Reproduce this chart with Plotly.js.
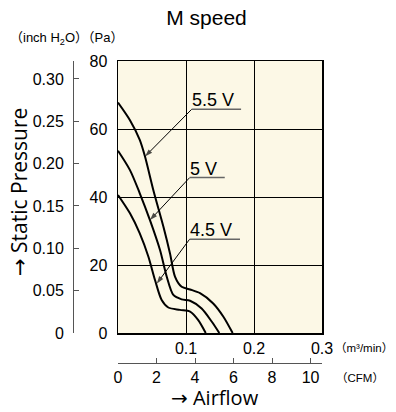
<!DOCTYPE html>
<html>
<head>
<meta charset="utf-8">
<script src="https://cdn.plot.ly/plotly-3.0.1.min.js"></script>
<style>html,body{margin:0;padding:0;background:#fff;}#chart{width:396px;height:412px;}</style>
</head>
<body>
<div id="chart"></div>
<script>
// Airflow (m3/min) and static pressure (Pa)
const flow55 = [0, 0.0176, 0.032, 0.0397, 0.052, 0.0667, 0.0765, 0.0838, 0.0936, 0.106, 0.1206, 0.140, 0.155, 0.1686];
const pres55 = [67.8, 62.6, 56.8, 51.9, 42, 31.3, 23.4, 16.6, 13.6, 12.8, 11.7, 8.7, 4.8, 0];
const flow50 = [0, 0.0176, 0.032, 0.047, 0.0618, 0.0716, 0.0814, 0.0936, 0.106, 0.123, 0.138, 0.149];
const pres50 = [53.6, 47.9, 41.1, 33.2, 24.4, 16.6, 11.2, 9.9, 9.5, 7.2, 3.3, 0];
const flow45 = [0, 0.0176, 0.032, 0.0446, 0.0544, 0.0642, 0.074, 0.091, 0.106, 0.118, 0.129];
const pres45 = [40.6, 35.2, 29.3, 22.5, 15.6, 9.7, 7.5, 6.8, 6.3, 3.8, 0];

// Voltage labels
const labelText = ['5.5 V', '5 V', '4.5 V'];
const labelX = [0.1084, 0.1054, 0.1054];
const labelEndX = [0.181, 0.157, 0.1794];
const labelY = [65.8, 45.7, 27.6];
const arrowX = [0.0397, 0.047, 0.0569];
const arrowY = [51.9, 33.2, 14.5];

// Tick labels
const paTicks = [0, 20, 40, 60, 80];
const m3Ticks = [0.1, 0.2, 0.3];
const m3TickText = ['0.1', '0.2', '0.3'];
const inchTicks = [0, 0.05, 0.10, 0.15, 0.20, 0.25, 0.30];
const inchTickText = ['0', '0.05', '0.10', '0.15', '0.20', '0.25', '0.30'];
const cfmTicks = [0, 2, 4, 6, 8, 10];

const PA_PER_INCH = 249.089;
const CFM_PER_M3 = 35.3147;
const xMax = 0.3, yMax = 80;

const tickFam = '"Liberation Sans", Arial, sans-serif';
const sans = '"Liberation Sans", Arial, sans-serif';
const small = '"Liberation Sans", "Noto Sans CJK JP", sans-serif';
const big = '"Open Sans", sans-serif';
const arrowSpan = '<span style="font-family:\'DejaVu Sans\'">→</span> ';

const W = 396, H = 412, mL = 60, mR = 74, mT = 61, mB = 30;
const pw = W - mL - mR, ph = H - mT - mB;
const px = v => (v - mL) / pw;
const py = v => (H - mB - v) / ph;

const curve = (x, y) => ({x, y, type: 'scatter', mode: 'lines', line: {color: '#000', width: 2, shape: 'spline', smoothing: 0.8}, hoverinfo: 'skip', showlegend: false});
const traces = [
  curve(flow55, pres55), curve(flow50, pres50), curve(flow45, pres45),
  {x: [0], y: [0], xaxis: 'x', yaxis: 'y2', mode: 'markers', marker: {opacity: 0}, hoverinfo: 'skip', showlegend: false},
  {x: [0], y: [0], xaxis: 'x2', yaxis: 'y', mode: 'markers', marker: {opacity: 0}, hoverinfo: 'skip', showlegend: false}
];

const annotations = [];
const shapes = [];
labelText.forEach((t, i) => {
  annotations.push({x: labelX[i], y: labelY[i], xref: 'x', yref: 'y', text: t, showarrow: false, xanchor: 'left', yanchor: 'bottom', yshift: -3, xshift: -2, font: {family: sans, size: 18, color: '#000'}});
  traces.push({x: [labelX[i], arrowX[i]], y: [labelY[i], arrowY[i]], type: 'scatter', mode: 'lines+markers', line: {color: '#000', width: 1}, marker: {symbol: 'arrow', size: [0, 8], color: '#000', angleref: 'previous', line: {width: 0}}, hoverinfo: 'skip', showlegend: false});
  shapes.push({type: 'line', xref: 'x', yref: 'y', x0: labelX[i], x1: labelEndX[i], y0: labelY[i], y1: labelY[i], line: {color: '#666', width: 1.5}});
});

annotations.push({xref: 'paper', yref: 'paper', x: px(18.5), y: py(192.5), text: arrowSpan + 'Static Pressure', textangle: -90, showarrow: false, xanchor: 'center', yanchor: 'middle', font: {family: big, size: 21, color: '#000'}});
annotations.push({xref: 'paper', yref: 'paper', x: px(215), y: py(411.5), text: arrowSpan + 'Airflow', showarrow: false, xanchor: 'center', yanchor: 'bottom', borderpad: 0, font: {family: big, size: 20, color: '#000'}});
annotations.push({xref: 'paper', yref: 'paper', x: px(8), y: py(38), text: '（inch H<sub>2</sub>O）（Pa）', showarrow: false, xanchor: 'left', yanchor: 'middle', font: {family: small, size: 13, color: '#000'}});
annotations.push({xref: 'paper', yref: 'paper', x: px(333), y: py(348), text: '（m³/min）', showarrow: false, xanchor: 'left', yanchor: 'middle', font: {family: small, size: 11.5, color: '#000'}});
annotations.push({xref: 'paper', yref: 'paper', x: px(334), y: py(378), text: '（CFM）', showarrow: false, xanchor: 'left', yanchor: 'middle', font: {family: small, size: 11.5, color: '#000'}});

const tf = {family: tickFam, size: 16, color: '#000'};
const layout = {
  width: W, height: H,
  margin: {l: mL, r: mR, t: mT, b: mB, pad: 0},
  paper_bgcolor: '#fff', plot_bgcolor: '#fcf8e6',
  showlegend: false,
  title: {text: 'M speed', x: 206.5 / W, xref: 'container', xanchor: 'center', y: 1 - 18 / H, yref: 'container', yanchor: 'middle', font: {family: sans, size: 21, color: '#000'}},
  xaxis: {domain: [px(118), 1], range: [0, xMax], tickvals: m3Ticks, ticktext: m3TickText, ticks: '', showgrid: true, gridcolor: '#000', gridwidth: 1, zeroline: false, showline: true, mirror: true, linecolor: '#000', linewidth: 1.5, tickfont: tf, ticklabelstandoff: 0, fixedrange: true},
  yaxis: {domain: [py(333), 1], range: [0, yMax], tickvals: paTicks, ticks: '', showgrid: true, gridcolor: '#000', gridwidth: 1, zeroline: false, showline: true, mirror: true, linecolor: '#000', linewidth: 1.5, tickfont: tf, ticklabelstandoff: 6, fixedrange: true},
  yaxis2: {overlaying: 'y', anchor: 'free', position: px(73), side: 'left', range: [0, yMax / PA_PER_INCH], tickvals: inchTicks, ticktext: inchTickText, ticks: 'inside', ticklen: 5, tickcolor: '#555', showline: true, linecolor: '#555', linewidth: 1, showgrid: false, zeroline: false, tickfont: tf, ticklabelstandoff: 6, fixedrange: true},
  xaxis2: {overlaying: 'x', anchor: 'free', position: py(363), side: 'bottom', range: [0, xMax * CFM_PER_M3], tickvals: cfmTicks, ticks: 'inside', ticklen: 5, tickcolor: '#555', showline: true, linecolor: '#555', linewidth: 1, showgrid: false, zeroline: false, tickfont: tf, ticklabelstandoff: 0, fixedrange: true},
  annotations, shapes
};

Plotly.newPlot('chart', traces, layout, {staticPlot: true, displayModeBar: false});
</script>
</body>
</html>
